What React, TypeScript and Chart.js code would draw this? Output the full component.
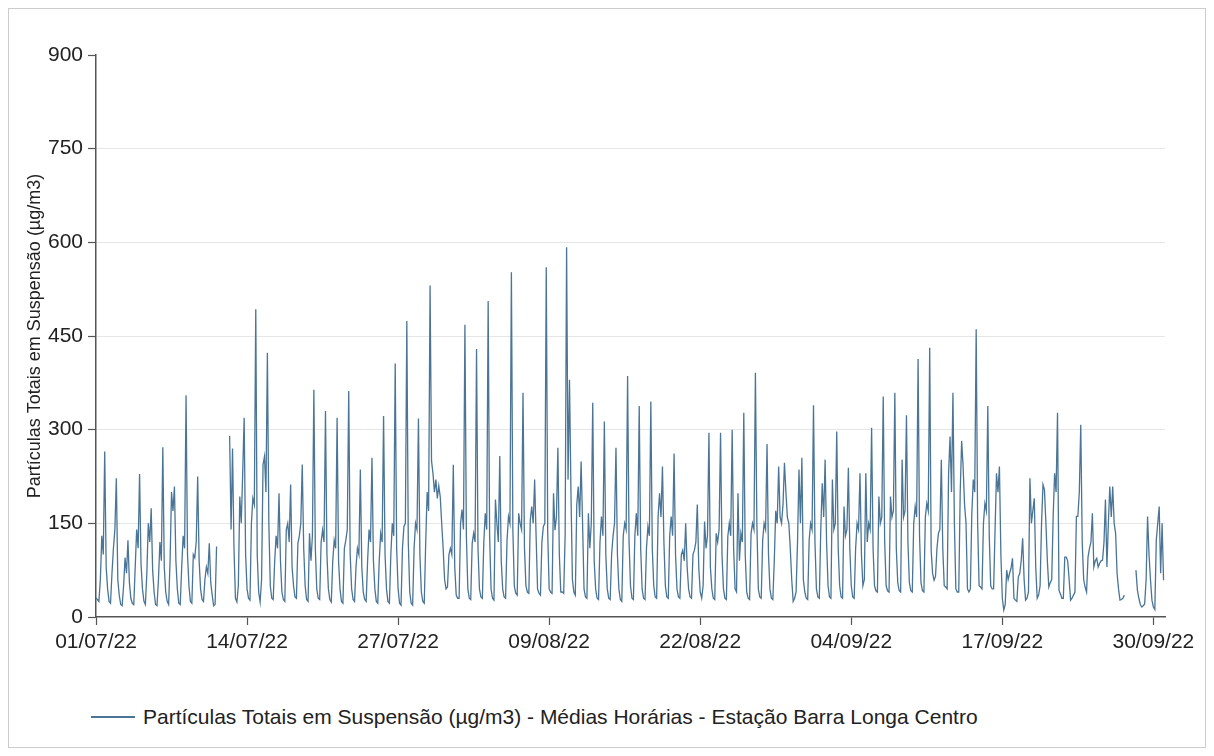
import React, { useEffect, useRef } from "react";
import { Chart, registerables } from "chart.js";

Chart.register(...registerables);

// Hours of the day at which each daily row is sampled
const sampleHours = [0, 3, 6, 9, 12, 15, 18, 21];

// PTS (µg/m3), one row of 8 values per day
const julyValues: (number | null)[] = [
  30, 28, 25, 60, 130, 100, 265, 80,
  45, 25, 22, 70, 110, 140, 222, 60,
  35, 20, 18, 50, 95, 70, 123, 55,
  30, 22, 20, 80, 140, 110, 229, 85,
  45, 25, 20, 70, 150, 120, 174, 75,
  40, 20, 18, 60, 120, 90, 272, 80,
  40, 25, 20, 90, 200, 170, 209, 90,
  45, 22, 20, 80, 130, 110, 355, 100,
  50, 25, 22, 100, 95, 120, 225, 90,
  45, 28, 25, 60, 80, 70, 118, 55,
  35, 18, 20, 113, null, null, null, null,
  null, null, null, null, 290, 140, 270, 110,
  30, 24, 50, 193, 150, 230, 319, 100,
  45, 30, 27, 150, 190, 180, 493, 100,
  40, 24, 60, 244, 257, 200, 423, 150,
  50, 30, 28, 88, 130, 110, 198, 90,
  40, 28, 25, 140, 150, 120, 212, 80,
  50, 32, 30, 118, 130, 150, 244, 110,
  50, 28, 25, 134, 90, 130, 364, 110,
  45, 30, 28, 120, 139, 120, 330, 100,
  45, 28, 24, 90, 123, 110, 319, 90,
  45, 25, 22, 110, 123, 140, 362, 100,
  45, 28, 25, 80, 110, 100, 236, 80,
  40, 28, 25, 90, 140, 120, 255, 90,
  45, 25, 22, 90, 134, 120, 322, 100,
  45, 25, 22, 100, 150, 130, 406, 110,
  45, 22, 19, 110, 145, 150, 474, 120,
  40, 22, 19, 110, 150, 140, 318, 100,
  40, 25, 22, 120, 200, 170, 531, 250,
  230, 200, 220, 190, 210, 193, 150, 110,
  60, 45, 48, 100, 110, 100, 244, 80,
];

const augustValues: (number | null)[] = [
  35, 30, 30, 150, 172, 140, 468, 130,
  45, 30, 28, 118, 134, 120, 429, 110,
  45, 32, 30, 120, 166, 140, 506, 130,
  45, 30, 27, 188, 150, 120, 258, 90,
  45, 32, 30, 123, 161, 150, 552, 140,
  50, 38, 35, 166, 150, 140, 359, 110,
  50, 40, 38, 155, 177, 150, 220, 130,
  45, 38, 35, 120, 145, 150, 560, 134,
  45, 40, 38, 198, 139, 160, 271, 100,
  40, 40, 38, 130, 592, 220, 380, 200,
  60, 40, 35, 180, 209, 160, 249, 150,
  45, 32, 30, 166, 110, 150, 343, 90,
  45, 30, 28, 120, 161, 130, 313, 100,
  45, 30, 28, 100, 130, 150, 271, 100,
  45, 28, 25, 130, 150, 140, 386, 120,
  50, 30, 28, 130, 166, 130, 338, 110,
  45, 30, 28, 110, 145, 130, 345, 110,
  50, 32, 30, 161, 198, 160, 241, 120,
  50, 32, 30, 130, 161, 130, 262, 100,
  45, 32, 30, 100, 107, 90, 150, 80,
  45, 32, 30, 100, 107, 120, 180, 80,
  40, 30, 50, 153, 110, 130, 295, 80,
  45, 30, 28, 134, 120, 140, 295, 100,
  45, 30, 28, 129, 150, 130, 300, 110,
  45, 40, 198, 90, 134, 120, 327, 100,
  40, 30, 28, 134, 150, 140, 391, 150,
  45, 32, 30, 123, 150, 140, 277, 100,
  45, 30, 28, 91, 170, 150, 241, 160,
  150, 180, 247, 200, 160, 150, 110, 60,
  25, 30, 40, 120, 236, 150, 255, 60,
  40, 30, 28, 123, 150, 140, 339, 120,
];

const septemberValues: (number | null)[] = [
  45, 32, 30, 140, 214, 160, 252, 120,
  50, 32, 30, 220, 140, 150, 297, 110,
  50, 32, 30, 177, 130, 140, 239, 110,
  50, 32, 30, 110, 150, 140, 230, 100,
  50, 60, 230, 120, 150, 140, 303, 110,
  50, 42, 40, 193, 150, 160, 353, 120,
  50, 42, 40, 193, 160, 170, 359, 110,
  55, 42, 40, 252, 160, 170, 323, 120,
  55, 42, 40, 150, 177, 160, 413, 130,
  55, 42, 40, 160, 182, 170, 431, 107,
  70, 59, 65, 110, 134, 140, 252, 110,
  50, 48, 45, 230, 289, 200, 359, 150,
  45, 40, 40, 200, 282, 241, 180, 150,
  45, 40, 45, 166, 220, 200, 461, 150,
  50, 48, 45, 150, 182, 170, 338, 130,
  50, 45, 45, 140, 230, 200, 241, 100,
  30, 11, 20, 75, 60, 70, 78, 94,
  30, 27, 25, 64, 70, 90, 126, 60,
  27, 30, 40, 222, 150, 170, 190, 80,
  30, 35, 50, 150, 212, 204, 150, 90,
  48, 55, 60, 161, 230, 200, 327, 43,
  37, 30, 30, 96, 96, 90, 60, 27,
  30, 35, 40, 161, 161, 200, 308, 120,
  60, 48, 40, 96, 110, 120, 166, 80,
  90, 94, 80, 86, 90, 91, 120, 188,
  80, 150, 209, 160, 209, 150, 134, 70,
  45, 27, 28, 30, 35, null, null, null,
  null, null, null, null, 75, 43, 30, 20,
  16, 18, 21, 60, 161, 100, 60, 27,
  16, 12, 123, 150, 177, 70, 150, 59,
];

// x-axis ticks: day offsets from 01/07/22 and their labels
const tickDays = [0, 13, 26, 39, 52, 65, 78, 91];
const tickLabels = ["01/07/22", "14/07/22", "27/07/22", "09/08/22", "22/08/22", "04/09/22", "17/09/22", "30/09/22"];
const yTicks = [0, 150, 300, 450, 600, 750, 900];

const seriesLabel = "Partículas Totais em Suspensão (µg/m3) - Médias Horárias - Estação Barra Longa Centro";
const yTitle = "Partículas Totais em Suspensão (µg/m3)";
const lineColor = "#4a7596";
const FONT = '"Liberation Sans", Arial, sans-serif';

export default function App() {
  const ref = useRef<HTMLCanvasElement>(null);

  useEffect(() => {
    const all = [...julyValues, ...augustValues, ...septemberValues];
    const n = sampleHours.length;
    const points = all.map((v, i) => ({
      x: Math.floor(i / n) + sampleHours[i % n] / 24,
      y: v,
    }));
    Chart.defaults.font.family = FONT;
    const chart = new Chart(ref.current!, {
      type: "line",
      data: {
        datasets: [
          {
            label: seriesLabel,
            data: points as any,
            borderColor: lineColor,
            borderWidth: 1.3,
            pointRadius: 0,
            tension: 0,
            spanGaps: false,
          },
        ],
      },
      options: {
        animation: false,
        responsive: false,
        devicePixelRatio: 1,
        layout: { padding: { top: 46, right: 40, bottom: 0, left: 0 } },
        plugins: { legend: { display: false }, tooltip: { enabled: false } },
        scales: {
          x: {
            type: "linear",
            min: 0,
            max: 92,
            afterBuildTicks: (axis: any) => {
              axis.ticks = tickDays.map((v) => ({ value: v }));
            },
            afterFit: (s: any) => {
              s.height = 64;
            },
            ticks: {
              autoSkip: false,
              maxRotation: 0,
              padding: 5,
              color: "#222",
              font: { size: 21 },
              callback: (_v: any, i: number) => tickLabels[i],
            },
            grid: { drawOnChartArea: false, tickLength: 8, tickColor: "#555", tickWidth: 1.2 },
            border: { color: "#555", width: 1.5 },
          },
          y: {
            min: 0,
            max: 900,
            afterBuildTicks: (axis: any) => {
              axis.ticks = yTicks.map((v) => ({ value: v }));
            },
            afterFit: (s: any) => {
              s.width = 87;
            },
            ticks: { padding: 5, color: "#222", font: { size: 21 } },
            grid: {
              color: (c: any) =>
                c.tick && (c.tick.value === 0 || c.tick.value === 900) ? "rgba(0,0,0,0)" : "#e6e6e6",
              lineWidth: 1,
              tickLength: 8,
              tickColor: "#555",
              tickWidth: 1.2,
            },
            border: { color: "#555", width: 1.5 },
            title: {
              display: true,
              text: yTitle,
              color: "#222",
              font: { size: 18 },
              padding: { top: 15, bottom: 0 },
            },
          },
        },
      },
    });
    return () => chart.destroy();
  }, []);

  return (
    <div
      style={{
        position: "relative",
        width: 1198,
        height: 740,
        border: "1px solid #cccccc",
        boxSizing: "border-box",
        background: "#fff",
        fontFamily: FONT,
      }}
    >
      <canvas
        ref={ref}
        width={1196}
        height={672}
        style={{ position: "absolute", left: 0, top: 0, width: 1196, height: 672 }}
      />
      <div
        style={{
          position: "absolute",
          left: 82,
          top: 694,
          display: "flex",
          alignItems: "center",
          height: 28,
          whiteSpace: "nowrap",
        }}
      >
        <span style={{ display: "inline-block", width: 44, height: 1.5, background: lineColor, marginRight: 8 }} />
        <span style={{ fontSize: 21, color: "#222" }}>{seriesLabel}</span>
      </div>
    </div>
  );
}
